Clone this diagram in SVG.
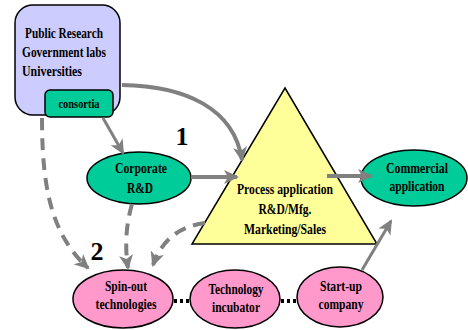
<svg xmlns="http://www.w3.org/2000/svg" width="468" height="330" viewBox="0 0 468 330">
<style>
.t{font-family:"Liberation Serif","Times New Roman",serif;font-weight:bold;font-size:15px;fill:#000}
.c{text-anchor:middle}
.num{font-family:"Liberation Serif","Times New Roman",serif;font-weight:bold;font-size:26px;fill:#000;text-anchor:middle}
.node{stroke:#000;stroke-width:1.5}
.teal{fill:#00cc99}
.pink{fill:#ff99cc}
.arr{fill:none;stroke:#808080;stroke-width:4;marker-end:url(#ah)}
.thin{stroke-width:3}
.dash{fill:none;stroke:#808080;stroke-width:4;stroke-dasharray:12 8;marker-end:url(#ah)}
.dot{fill:none;stroke:#000;stroke-width:4;stroke-dasharray:3 3}
</style>
<defs>
<marker id="ah" markerUnits="userSpaceOnUse" markerWidth="16" markerHeight="14" refX="13" refY="7" orient="auto">
<path d="M0,0 L15,7 L0,14 L4,7 Z" fill="#808080"/>
</marker>
</defs>
<g id="public-research">
<rect class="node" x="15" y="5" width="105" height="110" rx="18" fill="#ccccff"/>
<text class="t" x="25" y="38" textLength="78" lengthAdjust="spacingAndGlyphs">Public Research</text>
<text class="t" x="22" y="57" textLength="84" lengthAdjust="spacingAndGlyphs">Government labs</text>
<text class="t" x="22" y="76" textLength="60" lengthAdjust="spacingAndGlyphs">Universities</text>
</g>
<g id="consortia">
<rect class="node teal" x="45" y="90" width="68" height="27" rx="5"/>
<text class="t c" x="79" y="108" style="font-size:13px" textLength="41" lengthAdjust="spacingAndGlyphs">consortia</text>
</g>
<g id="corporate-rd">
<ellipse class="node teal" cx="139" cy="178" rx="52" ry="26"/>
<text class="t c" x="141" y="173" textLength="52" lengthAdjust="spacingAndGlyphs">Corporate</text>
<text class="t c" x="140" y="193" textLength="26" lengthAdjust="spacingAndGlyphs">R&amp;D</text>
</g>
<g id="process">
<polygon class="node" points="285,88 377,244 192,244" fill="#ffff99"/>
<text class="t c" x="285" y="194" textLength="96" lengthAdjust="spacingAndGlyphs">Process application</text>
<text class="t c" x="285" y="214" textLength="53" lengthAdjust="spacingAndGlyphs">R&amp;D/Mfg.</text>
<text class="t c" x="285" y="234" textLength="82" lengthAdjust="spacingAndGlyphs">Marketing/Sales</text>
</g>
<g id="commercial">
<ellipse class="node teal" cx="414" cy="178" rx="53" ry="28"/>
<text class="t c" x="417" y="173" textLength="62" lengthAdjust="spacingAndGlyphs">Commercial</text>
<text class="t c" x="417" y="191" textLength="55" lengthAdjust="spacingAndGlyphs">application</text>
</g>
<g id="spin-out">
<ellipse class="node pink" cx="123" cy="299" rx="50" ry="29"/>
<text class="t c" x="126" y="291" textLength="42" lengthAdjust="spacingAndGlyphs">Spin-out</text>
<text class="t c" x="126" y="309" textLength="61" lengthAdjust="spacingAndGlyphs">technologies</text>
</g>
<g id="incubator">
<ellipse class="node pink" cx="235" cy="299" rx="45" ry="29"/>
<text class="t c" x="236" y="294" textLength="55" lengthAdjust="spacingAndGlyphs">Technology</text>
<text class="t c" x="236" y="312" textLength="48" lengthAdjust="spacingAndGlyphs">incubator</text>
</g>
<g id="start-up">
<ellipse class="node pink" cx="340" cy="297" rx="43" ry="30"/>
<text class="t c" x="341" y="291" textLength="42" lengthAdjust="spacingAndGlyphs">Start-up</text>
<text class="t c" x="341" y="309" textLength="45" lengthAdjust="spacingAndGlyphs">company</text>
</g>
<g id="labels">
<text class="num" x="182" y="145">1</text>
<text class="num" x="97" y="260">2</text>
</g>
<g id="connectors">
<path class="arr" d="M191,177 L237,177"/>
<path class="arr" d="M327,176 L371,176"/>
<path class="arr" d="M122,85 C185,86 234,108 242,160"/>
<path class="arr thin" d="M103,118 L123,153"/>
<path class="arr thin" d="M362,270 L391,221"/>
<path class="dash" d="M42,118 C42,190 52,235 88,268"/>
<path class="dash" d="M132,204 Q123,235 128,268"/>
<path class="dash" d="M205,223 Q166,228 153,265"/>
<path class="dot" d="M174,301 L190,301"/>
<path class="dot" d="M281,301 L297,301"/>
</g>
</svg>
